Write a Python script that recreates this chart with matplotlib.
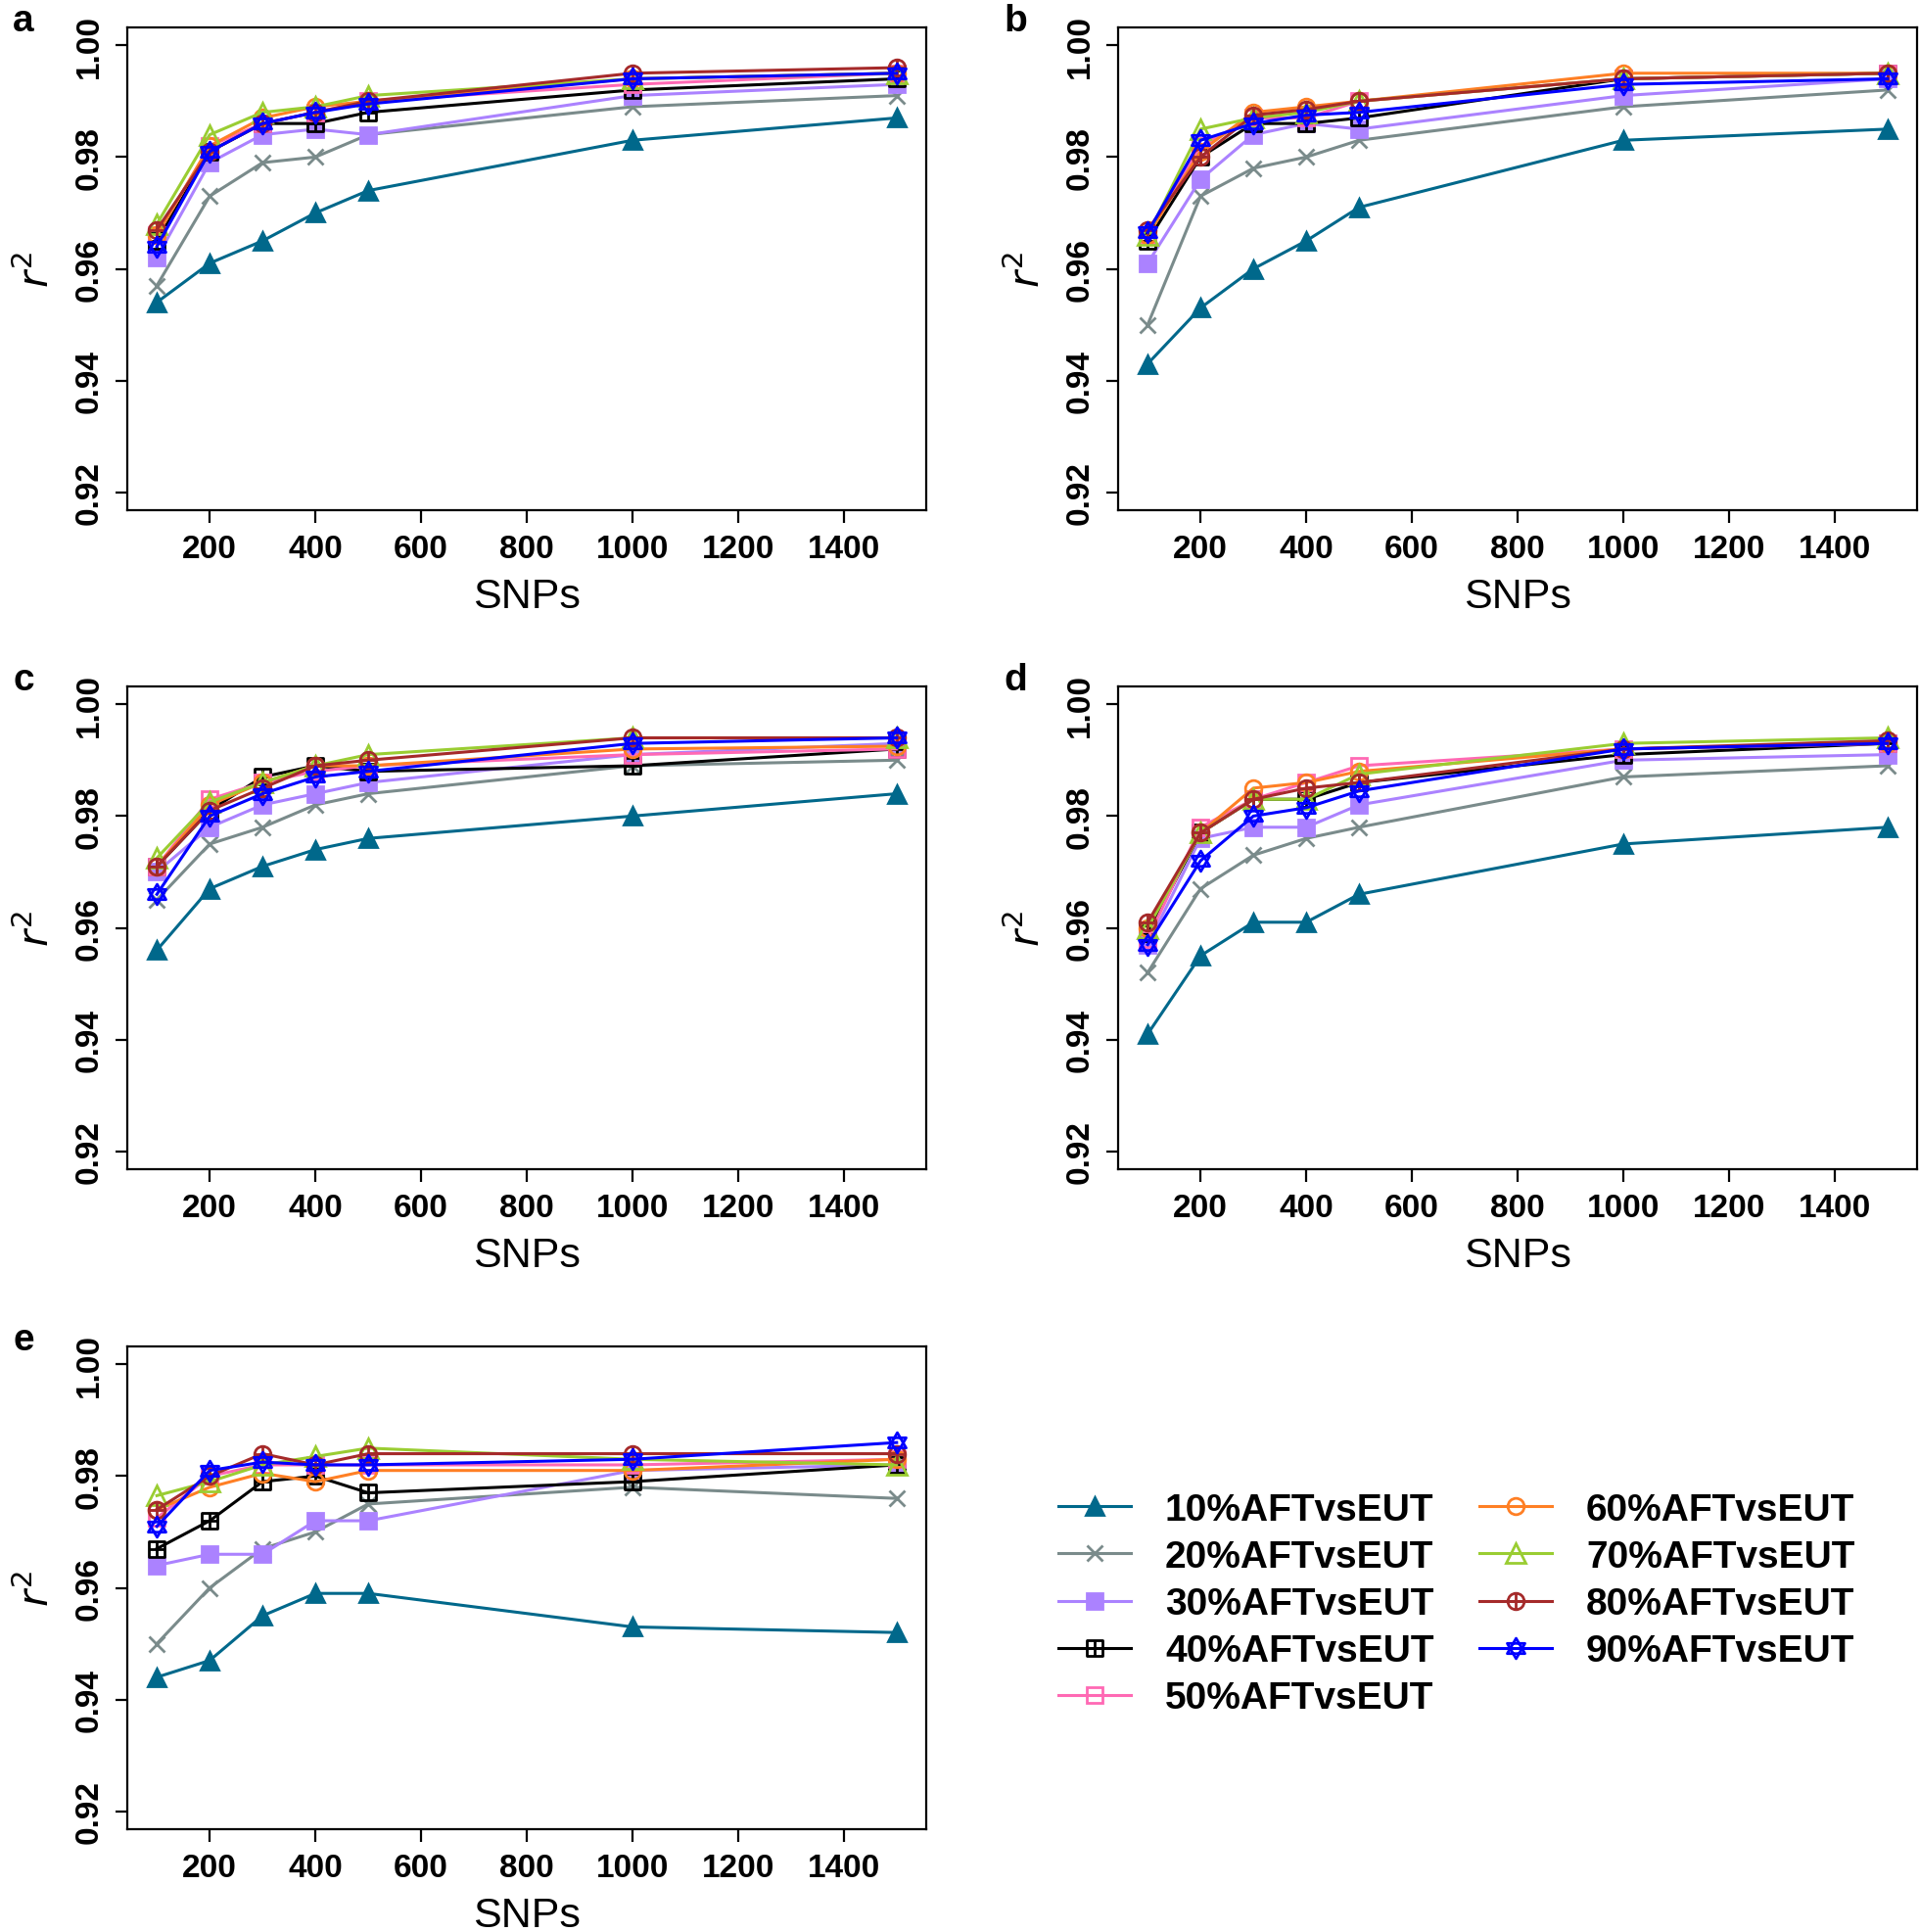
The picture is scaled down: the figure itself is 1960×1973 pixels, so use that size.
import matplotlib
matplotlib.use("Agg")
import matplotlib.pyplot as plt
from matplotlib.path import Path
import numpy as np

plt.rcParams['font.family'] = ['Liberation Sans', 'DejaVu Sans']

snps = [100, 200, 300, 400, 500, 1000, 1500]
labels = ['10%AFTvsEUT', '20%AFTvsEUT', '30%AFTvsEUT', '40%AFTvsEUT', '50%AFTvsEUT',
          '60%AFTvsEUT', '70%AFTvsEUT', '80%AFTvsEUT', '90%AFTvsEUT']
colors = ['#00688B', '#7A8B8B', '#AB82FF', '#000000', '#FF69B4',
          '#FF7F24', '#9ACD32', '#A52A2A', '#0000FF']

panel_a = [
    [0.954, 0.961, 0.965, 0.970, 0.974, 0.983, 0.987],
    [0.957, 0.973, 0.979, 0.980, 0.984, 0.989, 0.991],
    [0.962, 0.979, 0.984, 0.985, 0.984, 0.991, 0.993],
    [0.965, 0.981, 0.986, 0.986, 0.988, 0.992, 0.994],
    [0.966, 0.982, 0.986, 0.988, 0.990, 0.993, 0.995],
    [0.966, 0.982, 0.987, 0.989, 0.990, 0.994, 0.995],
    [0.968, 0.984, 0.988, 0.989, 0.991, 0.994, 0.995],
    [0.967, 0.981, 0.986, 0.988, 0.990, 0.995, 0.996],
    [0.964, 0.981, 0.986, 0.988, 0.9895, 0.994, 0.995],
]
panel_b = [
    [0.943, 0.953, 0.960, 0.965, 0.971, 0.983, 0.985],
    [0.950, 0.973, 0.978, 0.980, 0.983, 0.989, 0.992],
    [0.961, 0.976, 0.984, 0.986, 0.985, 0.991, 0.994],
    [0.965, 0.980, 0.986, 0.986, 0.987, 0.994, 0.995],
    [0.966, 0.982, 0.987, 0.987, 0.990, 0.994, 0.995],
    [0.966, 0.981, 0.988, 0.989, 0.990, 0.995, 0.995],
    [0.966, 0.985, 0.987, 0.988, 0.990, 0.994, 0.995],
    [0.967, 0.980, 0.9875, 0.9885, 0.990, 0.994, 0.995],
    [0.9665, 0.983, 0.986, 0.9875, 0.988, 0.993, 0.994],
]
panel_c = [
    [0.956, 0.967, 0.971, 0.974, 0.976, 0.980, 0.984],
    [0.965, 0.975, 0.978, 0.982, 0.984, 0.989, 0.990],
    [0.970, 0.978, 0.982, 0.984, 0.986, 0.991, 0.993],
    [0.971, 0.981, 0.987, 0.989, 0.988, 0.989, 0.992],
    [0.971, 0.983, 0.986, 0.988, 0.989, 0.991, 0.992],
    [0.971, 0.982, 0.986, 0.989, 0.989, 0.992, 0.9925],
    [0.9725, 0.9825, 0.986, 0.989, 0.991, 0.994, 0.994],
    [0.971, 0.981, 0.985, 0.989, 0.990, 0.994, 0.994],
    [0.966, 0.980, 0.984, 0.987, 0.988, 0.993, 0.994],
]
panel_d = [
    [0.941, 0.955, 0.961, 0.961, 0.966, 0.975, 0.978],
    [0.952, 0.967, 0.973, 0.976, 0.978, 0.987, 0.989],
    [0.957, 0.976, 0.978, 0.978, 0.982, 0.990, 0.991],
    [0.959, 0.977, 0.983, 0.983, 0.986, 0.991, 0.993],
    [0.958, 0.978, 0.983, 0.986, 0.989, 0.992, 0.993],
    [0.960, 0.977, 0.985, 0.986, 0.988, 0.992, 0.993],
    [0.960, 0.977, 0.983, 0.983, 0.9875, 0.993, 0.994],
    [0.961, 0.977, 0.983, 0.985, 0.986, 0.992, 0.9935],
    [0.957, 0.972, 0.980, 0.9815, 0.9845, 0.992, 0.993],
]
panel_e = [
    [0.944, 0.947, 0.955, 0.959, 0.959, 0.953, 0.952],
    [0.950, 0.960, 0.967, 0.970, 0.975, 0.978, 0.976],
    [0.964, 0.966, 0.966, 0.972, 0.972, 0.981, 0.982],
    [0.967, 0.972, 0.979, 0.980, 0.977, 0.979, 0.982],
    [0.9725, 0.980, 0.982, 0.982, 0.982, 0.982, 0.983],
    [0.974, 0.978, 0.9805, 0.979, 0.981, 0.981, 0.983],
    [0.9765, 0.979, 0.982, 0.9835, 0.985, 0.983, 0.982],
    [0.974, 0.980, 0.984, 0.982, 0.984, 0.984, 0.984],
    [0.971, 0.981, 0.9825, 0.982, 0.982, 0.983, 0.986],
]
panels = [('a', panel_a), ('b', panel_b), ('c', panel_c), ('d', panel_d), ('e', panel_e)]

xticks = [200, 400, 600, 800, 1000, 1200, 1400]
yticks = [0.92, 0.94, 0.96, 0.98, 1.00]
ytick_labels = ['0.92', '0.94', '0.96', '0.98', '1.00']

# custom marker paths (R pch 12, 10, 11)
def compound(*paths):
    return Path.make_compound_path(*paths)

sq = Path([(-1, -1), (1, -1), (1, 1), (-1, 1), (-1, -1)],
          [Path.MOVETO, Path.LINETO, Path.LINETO, Path.LINETO, Path.CLOSEPOLY])
plus = Path([(-1, 0), (1, 0), (0, -1), (0, 1)],
            [Path.MOVETO, Path.LINETO, Path.MOVETO, Path.LINETO])
sq_plus = compound(sq, plus)
circ_plus = compound(Path.unit_circle(), plus)
tu = Path([(0, 1), (-0.866, -0.5), (0.866, -0.5), (0, 1)],
          [Path.MOVETO, Path.LINETO, Path.LINETO, Path.CLOSEPOLY])
td = Path([(0, -1), (-0.866, 0.5), (0.866, 0.5), (0, -1)],
          [Path.MOVETO, Path.LINETO, Path.LINETO, Path.CLOSEPOLY])
star = compound(tu, td)

marker_specs = [
    dict(marker='^', ms=13, mfc=None),
    dict(marker='x', ms=12, mfc=None),
    dict(marker='s', ms=11, mfc=None),
    dict(marker=sq_plus, ms=11, mfc='none'),
    dict(marker='s', ms=12, mfc='none'),
    dict(marker='o', ms=12, mfc='none'),
    dict(marker='^', ms=14, mfc='none'),
    dict(marker=circ_plus, ms=12, mfc='none'),
    dict(marker=star, ms=15, mfc='none'),
]

W, H = 1960, 1974
fig = plt.figure(figsize=(W / 100, H / 100), dpi=100)

lefts = [130, 1142]
tops = [29, 702, 1376]
aw, ah = 816, 493

positions = [(lefts[0], tops[0]), (lefts[1], tops[0]), (lefts[0], tops[1]),
             (lefts[1], tops[1]), (lefts[0], tops[2])]

handles = []
for (letter, data), (lx, ty) in zip(panels, positions):
    ax = fig.add_axes([lx / W, 1 - (ty + ah) / H, aw / W, ah / H])
    for i, vals in enumerate(data):
        spec = marker_specs[i]
        kw = dict(color=colors[i], lw=2.2, marker=spec['marker'], markersize=spec['ms'],
                  markeredgewidth=2.0, markeredgecolor=colors[i])
        if spec['mfc'] is not None:
            kw['markerfacecolor'] = spec['mfc']
        else:
            kw['markerfacecolor'] = colors[i]
        h, = ax.plot(snps, vals, label=labels[i], **kw)
        if letter == 'a':
            handles.append(h)
    ax.set_xlim(100 - 56, 1500 + 56)
    ax.set_ylim(0.92 - 0.0032, 1.00 + 0.0032)
    ax.set_xticks(xticks)
    ax.set_xticklabels([str(t) for t in xticks], fontweight='bold', fontsize=24)
    ax.set_yticks(yticks)
    ax.set_yticklabels(ytick_labels, fontweight='bold', fontsize=24, rotation=90,
                       va='center', ha='right')
    ax.tick_params(axis='both', direction='out', length=9, width=1.6, pad=8)
    for sp in ax.spines.values():
        sp.set_linewidth(1.6)
    ax.set_xlabel('SNPs', fontsize=31, labelpad=10)
    ax.set_ylabel(r'$r^2$', fontsize=30, labelpad=12)
    fig.text((lx - 117) / W, 1 - (ty - 25) / H, letter, fontsize=28, fontweight='bold',
             ha='left', va='top')

leg = fig.legend(handles=handles, labels=labels, ncol=2, frameon=False,
                 loc='upper left', bbox_to_anchor=(1046 / W, 1 - 1490 / H),
                 prop={'weight': 'bold', 'size': 28}, handlelength=1.9,
                 handletextpad=0.9, columnspacing=1.2, labelspacing=0.31)

fig.savefig('out.png', dpi=100)
